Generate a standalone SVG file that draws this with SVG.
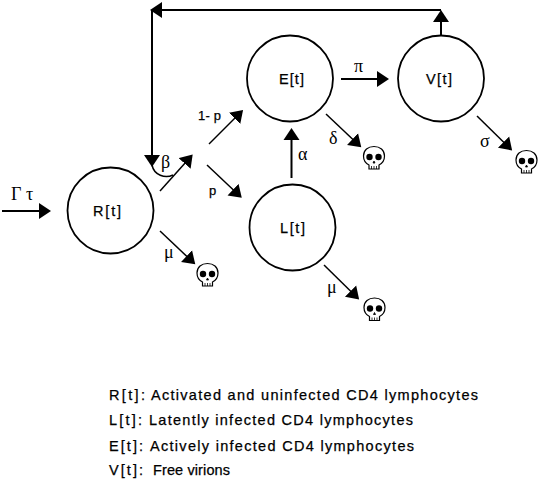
<svg xmlns="http://www.w3.org/2000/svg" xmlns:xlink="http://www.w3.org/1999/xlink" width="540" height="480" viewBox="0 0 540 480">
<style>
.n{fill:none;stroke:#000;stroke-width:1.8}
.l{fill:#000;stroke:#000;stroke-width:0.25;font-family:"Liberation Sans",Arial,sans-serif;font-size:14.5px}
.s{fill:#000;stroke:#000;stroke-width:0.25;font-family:"Liberation Sans",Arial,sans-serif;font-size:13px}
.g{fill:#000;font-family:"Liberation Serif","Times New Roman",serif;font-size:18px}
.c{fill:none;stroke:#000;stroke-width:2}
.d{fill:none;stroke:#000;stroke-width:1.5}
.a{marker-end:url(#h)}
</style>
<defs>
<marker id="h" markerUnits="userSpaceOnUse" markerWidth="14" markerHeight="18" refX="2" refY="8.5" orient="auto"><path d="M0,0.5L12,8.5L0,16.5Z" fill="#000"/></marker>
<g id="skull">
<path d="M-5,11 L-5,7 C-9,5 -10.500,2 -10.500,-2 C-10.500,-8 -6,-11.500 0,-11.500 C6,-11.500 10.500,-8 10.500,-2 C10.500,2 9,5 5,7 L5,11 Z" fill="#fff" stroke="#000" stroke-width="1.200"/>
<circle cx="-4.500" cy="-1" r="3.200" fill="#000"/><circle cx="4.500" cy="-1" r="3.200" fill="#000"/>
<path d="M-1,5L0,3L1,5ZM-2.500,8V11M0,8V11M2.500,8V11" fill="#000" stroke="#000" stroke-width="0.800"/>
</g>
</defs>
<rect width="540" height="480" fill="#fff"/>
<g id="connectors">
<path class="c a" d="M2,211H41"/>
<path class="c a" d="M441,35V20"/>
<path class="c" d="M441,10H152"/>
<path class="c a" d="M441,10H160"/>
<path class="c a" d="M152,10V157"/>
<path class="d" d="M152,165C154,175 165,179 173,175"/>
<path class="d a" d="M160,191L186,162"/>
<path class="d a" d="M209,144L236,117"/>
<path class="d a" d="M207,165L234.500,191"/>
<path class="d a" d="M160,231L188,257.500"/>
<path class="c a" d="M291.500,178V138"/>
<path class="c a" d="M341,79H379"/>
<path class="d a" d="M326,114L354,140.500"/>
<path class="d a" d="M477,116L505,143.500"/>
<path class="d a" d="M324,265L352,292.500"/>
</g>
<g id="node-R"><circle class="n" cx="110.500" cy="210.500" r="43"/><text class="l" x="93" y="216" textLength="28" lengthAdjust="spacing">R[t]</text></g>
<g id="node-L"><circle class="n" cx="292.500" cy="227.500" r="43"/><text class="l" x="280" y="233" textLength="25" lengthAdjust="spacing">L[t]</text></g>
<g id="node-E"><circle class="n" cx="290" cy="78.500" r="43"/><text class="l" x="279" y="84" textLength="25" lengthAdjust="spacing">E[t]</text></g>
<g id="node-V"><circle class="n" cx="441" cy="78.500" r="43"/><text class="l" x="426" y="84" textLength="26" lengthAdjust="spacing">V[t]</text></g>
<g id="skulls">
<use xlink:href="#skull" href="#skull" x="207.500" y="275"/>
<use xlink:href="#skull" href="#skull" x="374" y="158"/>
<use xlink:href="#skull" href="#skull" x="374.500" y="309.500"/>
<use xlink:href="#skull" href="#skull" x="526.500" y="162"/>
</g>
<g id="rates">
<text class="g" x="11" y="200">Γ τ</text>
<text class="g" x="161" y="168">β</text>
<text class="g" x="164" y="258">μ</text>
<text class="g" x="327" y="293">μ</text>
<text class="g" x="298" y="160">α</text>
<text class="g" x="354" y="72">π</text>
<text class="g" x="329" y="144">δ</text>
<text class="g" x="480" y="147">σ</text>
<text class="s" x="198" y="120" textLength="23" lengthAdjust="spacing">1- p</text>
<text class="s" x="209" y="195">p</text>
</g>
<g id="legend">
<text class="l" x="109" y="400" textLength="36" lengthAdjust="spacing">R[t]:</text><text class="l" x="151" y="400" textLength="327" lengthAdjust="spacing">Activated and uninfected CD4 lymphocytes</text>
<text class="l" x="109" y="425" textLength="33" lengthAdjust="spacing">L[t]:</text><text class="l" x="149" y="425" textLength="264" lengthAdjust="spacing">Latently infected CD4 lymphocytes</text>
<text class="l" x="109" y="451" textLength="34" lengthAdjust="spacing">E[t]:</text><text class="l" x="150" y="451" textLength="264" lengthAdjust="spacing">Actively infected CD4 lymphocytes</text>
<text class="l" x="109" y="475" textLength="34" lengthAdjust="spacing">V[t]:</text><text class="l" x="153" y="475" textLength="77" lengthAdjust="spacing">Free virions</text>
</g>
</svg>
